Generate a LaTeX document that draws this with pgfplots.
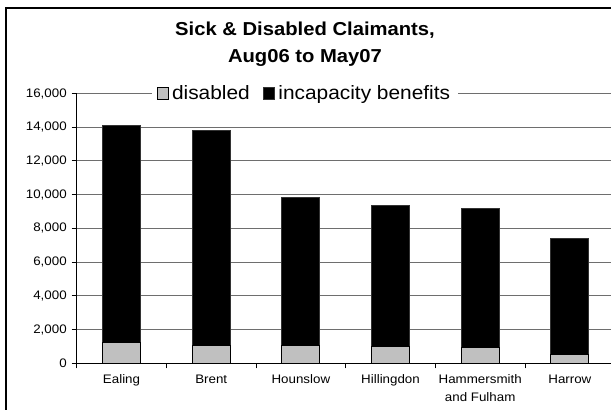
\documentclass[border=0pt]{standalone}
\usepackage{fontspec}
\setmainfont{Liberation Sans}[FakeStretch=1.08]
\usepackage{pgfplots}
\pgfplotsset{compat=1.18}
\definecolor{disgray}{RGB}{192,192,192}
\definecolor{gridgray}{RGB}{110,110,110}

\begin{document}
\begin{tikzpicture}
\path[use as bounding box] (0bp,0bp) rectangle (611bp,410bp);
\clip (0bp,0bp) rectangle (611bp,410bp);
% chart area frame
\draw[black, line width=1.1bp] (6bp,-20bp) rectangle (640bp,402bp);
% title
\node[font=\fontsize{18.8}{22}\selectfont\bfseries, anchor=base, inner sep=0pt]
  at (305bp,374bp) {Sick \& Disabled Claimants,};
\node[font=\fontsize{18.8}{22}\selectfont\bfseries, anchor=base, inner sep=0pt]
  at (305bp,347bp) {Aug06 to May07};
\begin{axis}[
  at={(76.7bp,46.7bp)}, anchor=south west,
  scale only axis, width=538bp, height=269.8bp,
  ybar stacked, bar width=38bp,
  xmin=-0.5, xmax=5.5, ymin=0, ymax=16000,
  axis x line=bottom, axis y line=left,
  axis line style={-, black, line width=1bp},
  xtick={0,1,2,3,4,5},
  xticklabels={Ealing, Brent, Hounslow, Hillingdon, {Hammersmith\\and Fulham}, Harrow},
  minor xtick={-0.5,0.5,1.5,2.5,3.5,4.5,5.5},
  ytick={0,2000,4000,6000,8000,10000,12000,14000,16000},
  major x tick style={draw=none},
  tick style={black, line width=0.9bp},
  tick align=outside,
  major tick length=5bp, minor tick length=5bp,
  ymajorgrids,
  major grid style={gridgray, line width=1.1bp},
  scaled y ticks=false,
  /pgf/number format/1000 sep={,},
  /pgf/number format/assume math mode=true,
  yticklabel style={font=\fontsize{12.4}{14}\selectfont, xshift=-1.5bp},
  xticklabel style={font=\fontsize{12.4}{17.5}\selectfont, align=center, yshift=-3bp},
  legend columns=-1,
  legend image code/.code={\draw[#1, line width=1bp] (0bp,-5.6bp) rectangle (11.2bp,5.6bp);},
  legend style={at={(axis description cs:0.4243,1)}, anchor=center,
    fill=white, draw=none, inner xsep=5bp, inner ysep=1bp,
    font=\fontsize{19.4}{22}\selectfont,
    /tikz/every even column/.append style={column sep=10bp},
    nodes={inner xsep=3.2bp}},
]
\addplot[fill=disgray, draw=black, line width=1bp] coordinates {
  (0,1220) (1,1070) (2,1030) (3,1000) (4,930) (5,530)};
\addplot[fill=black, draw=black!80, line width=1bp] coordinates {
  (0,12870) (1,12750) (2,8830) (3,8330) (4,8240) (5,6880)};
\legend{disabled, incapacity benefits}
\end{axis}
\end{tikzpicture}
\end{document}
